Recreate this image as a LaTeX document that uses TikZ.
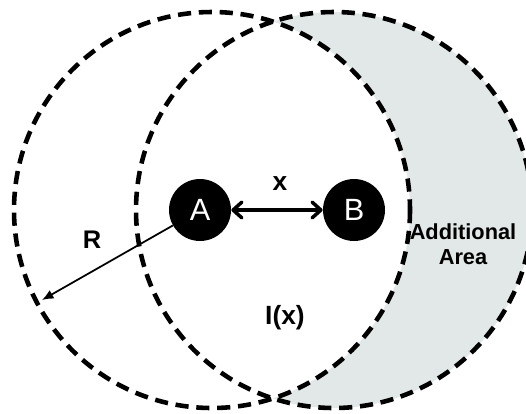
\documentclass[tikz,border=0pt]{standalone}
\usepackage{fontspec}
\setmainfont{Liberation Sans}
\usetikzlibrary{arrows.meta}
\definecolor{extraarea}{HTML}{E2E7E7}

\begin{document}
\begin{tikzpicture}[x=0.02cm, y=-0.02cm,
        reach/.style={line width=2.6pt, dash pattern=on 7.5pt off 4.4pt},
        pt/.style={circle, fill=black, text=white, minimum size=1.24cm, inner sep=0pt,
                font=\fontsize{17.5}{20}\selectfont},
        lbl/.style={font=\bfseries\fontsize{15}{17}\selectfont, inner sep=0pt},
        dist/.style={{Straight Barb[length=5pt,width=9pt,round]}-{Straight Barb[length=5pt,width=9pt,round]}, line width=2pt},
        rad/.style={-{Latex[length=6.5pt,width=5.5pt]}, line width=1pt}
    ]
    \useasboundingbox (0,0) rectangle (526,413);
    \clip (0,0) rectangle (526,413);

    % ================= added area =================
    \begin{scope}
        \clip (334,210) circle [radius=198];
        \fill[extraarea, even odd rule] (334,210) circle [radius=198] (212,210) circle [radius=198];
    \end{scope}

    % ================= ranges =================
    \draw[reach] (212,210) circle [radius=198];
    \draw[reach] (334,210) circle [radius=198];

    % ================= nodes =================
    \node[pt] (A) at (200,210) {A};
    \node[pt] (B) at (354,210) {B};
    \coordinate (Rend) at (42,300);

    \draw[dist] (A) -- (B);
    \draw[rad] (A) -- (Rend);

    \node[lbl] (xl) at (280,184) {x};
    \node[lbl, font=\bfseries\fontsize{14.5}{17}\selectfont] (Rl) at (92,240) {R};
    \node[lbl] (Il) at (285,318) {I(x)};
    \node[lbl, align=center, font=\bfseries\fontsize{12.4}{14.2}\selectfont] (add) at (463,244) {Additional\\Area};
\end{tikzpicture}
\end{document}
